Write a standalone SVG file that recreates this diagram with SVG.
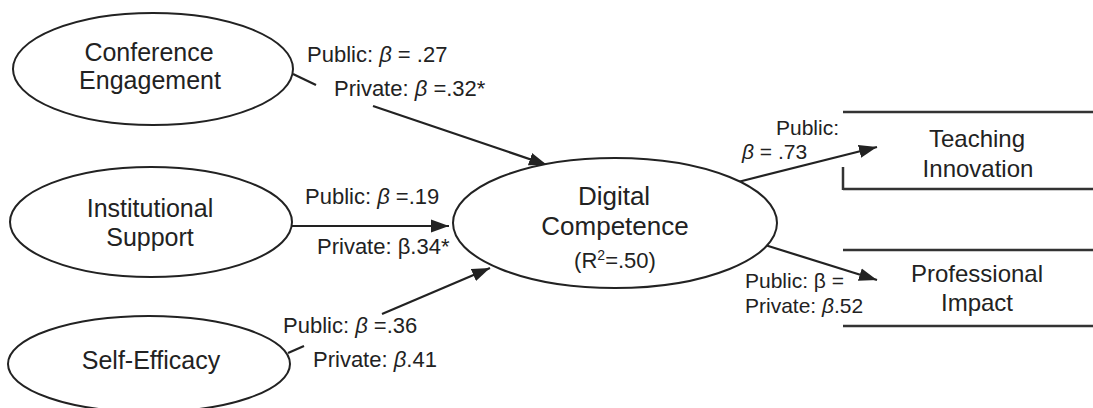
<svg xmlns="http://www.w3.org/2000/svg" width="1093" height="408" viewBox="0 0 1093 408">
  <defs>
    <marker id="arrow" markerUnits="userSpaceOnUse" markerWidth="20" markerHeight="14" refX="18" refY="7" orient="auto">
      <path d="M0,0.5 L18,7 L0,13.5 Z" fill="#222"/>
    </marker>
    <style>
      .node ellipse { fill: #fff; stroke: #222; stroke-width: 2; }
      .node text { font-family: "Liberation Sans", Arial, sans-serif; font-size: 25px; fill: #222; text-anchor: middle; }
      .box line { stroke: #333; stroke-width: 2.5; }
      .edge { stroke: #222; stroke-width: 2.2; fill: none; }
      .label { font-family: "Liberation Sans", Arial, sans-serif; font-size: 22px; fill: #222; }
      .label .sm { font-size: 21px; }
      .it { font-style: italic; }
    </style>
  </defs>
  <rect width="1093" height="408" fill="#fff"/>

  <!-- connectors -->
  <g id="connectors">
    <line class="edge" x1="293" y1="74" x2="316" y2="85"/>
    <line class="edge" x1="373" y1="106" x2="547" y2="165" marker-end="url(#arrow)"/>
    <line class="edge" x1="292" y1="226" x2="449" y2="226" marker-end="url(#arrow)"/>
    <line class="edge" x1="288" y1="353" x2="304" y2="346"/>
    <line class="edge" x1="382" y1="314" x2="490" y2="268" marker-end="url(#arrow)"/>
    <line class="edge" x1="738" y1="182" x2="877" y2="147" marker-end="url(#arrow)"/>
    <line class="edge" x1="765" y1="245" x2="877" y2="280" marker-end="url(#arrow)"/>
  </g>

  <!-- path coefficients -->
  <g id="edge-labels" class="label">
    <text x="307" y="62">Public: <tspan class="it">β</tspan> = .27</text>
    <text x="334" y="96">Private: <tspan class="it">β</tspan> =.32*</text>
    <text x="305" y="204">Public: <tspan class="it">β</tspan> =.19</text>
    <text x="317" y="254">Private: β.34*</text>
    <text x="283" y="333">Public:  <tspan class="it">β</tspan> =.36</text>
    <text x="313" y="367">Private: <tspan class="it">β</tspan>.41</text>
    <text class="sm" x="776" y="135">Public:</text>
    <text class="sm" x="742" y="159"><tspan class="it">β</tspan> = .73</text>
    <text class="sm" x="745" y="288">Public: β =</text>
    <text class="sm" x="745" y="313">Private: <tspan class="it">β</tspan>.52</text>
  </g>

  <g id="conference-engagement" class="node">
    <ellipse cx="153" cy="69" rx="140" ry="56"/>
    <text x="149" y="61">Conference</text>
    <text x="150" y="89">Engagement</text>
  </g>

  <g id="institutional-support" class="node">
    <ellipse cx="151" cy="222" rx="141" ry="55"/>
    <text x="150" y="217">Institutional</text>
    <text x="150" y="246">Support</text>
  </g>

  <g id="self-efficacy" class="node">
    <ellipse cx="149" cy="364" rx="141" ry="48"/>
    <text x="151" y="369">Self-Efficacy</text>
  </g>

  <g id="digital-competence" class="node">
    <ellipse cx="615" cy="223" rx="162" ry="65"/>
    <text x="614" y="205" style="font-size:26px">Digital</text>
    <text x="615" y="235" style="font-size:26px">Competence</text>
    <text x="615" y="268" style="font-size:22px">(R<tspan dy="-8" style="font-size:14px">2</tspan><tspan dy="8">=.50)</tspan></text>
  </g>

  <g id="teaching-innovation" class="node box">
    <line x1="843" y1="112" x2="1093" y2="112"/>
    <line x1="843" y1="189" x2="1093" y2="189"/>
    <line x1="843" y1="167" x2="843" y2="190"/>
    <text x="977" y="147" style="font-size:24px">Teaching</text>
    <text x="978" y="177" style="font-size:24px">Innovation</text>
  </g>

  <g id="professional-impact" class="node box">
    <line x1="843" y1="250" x2="1093" y2="250"/>
    <line x1="843" y1="326" x2="1093" y2="326"/>
    <text x="977" y="282" style="font-size:24px">Professional</text>
    <text x="977" y="311" style="font-size:24px">Impact</text>
  </g>
</svg>
